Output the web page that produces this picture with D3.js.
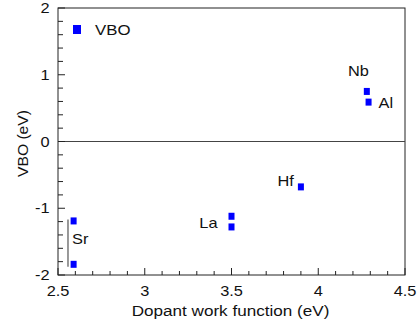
<!DOCTYPE html>
<html><head><meta charset="utf-8">
<script src="https://cdn.jsdelivr.net/npm/d3@7"></script>
<style>body{margin:0;background:#fff}svg{display:block}text{font-family:"Liberation Sans",Arial,sans-serif;fill:#111}</style>
</head><body><svg id="c" width="417" height="323"></svg>
<script>
const dopants = ["Sr","Sr","La","La","Hf","Nb","Al"];
const workFunction = [2.59,2.59,3.5,3.5,3.9,4.28,4.29];
const vbo = [-1.19,-1.84,-1.12,-1.28,-0.68,0.75,0.59];
const xTicks = [2.5,3,3.5,4,4.5];
const yTicks = [-2,-1,0,1,2];
const labels = [
  {name:"Nb", x:4.28, y:0.75, dx:2, dy:-15, anchor:"end"},
  {name:"Al", x:4.29, y:0.59, dx:10, dy:6, anchor:"start"},
  {name:"Hf", x:3.9, y:-0.68, dx:-7, dy:-1, anchor:"end"},
  {name:"La", x:3.5, y:-1.2, dx:-14, dy:6, anchor:"end"},
  {name:"Sr", x:2.5576, y:-1.5, dx:4, dy:2, anchor:"start"}
];

const svg = d3.select("#c");
const L=58, R=405, T=8, B=275;
const x = d3.scaleLinear().domain([2.5,4.5]).range([L,R]);
const y = d3.scaleLinear().domain([-2,2]).range([B,T]);
const col = "#222";
const SX = 1.17;

function txt(g, px, py, s, size, anchor, sx, rot){
  return g.append("text")
    .attr("transform",`translate(${px},${py})${rot?` rotate(${rot})`:""} scale(${sx||SX},1)`)
    .attr("font-size",size).attr("text-anchor",anchor||"start").text(s);
}

// frame
svg.append("rect").attr("x",L).attr("y",T).attr("width",R-L).attr("height",B-T)
  .attr("fill","none").attr("stroke",col).attr("stroke-width",1);
// zero line
svg.append("line").attr("x1",L).attr("x2",R).attr("y1",y(0)).attr("y2",y(0))
  .attr("stroke","#444").attr("stroke-width",1);

// x ticks (inward)
const xMinor = d3.range(25,46).map(d=>d/10);
svg.append("g").selectAll("line").data(xMinor).join("line")
  .attr("x1",d=>x(d)).attr("x2",d=>x(d)).attr("y1",B)
  .attr("y2",d=>B-(Math.abs(d*2-Math.round(d*2))<1e-6?7:4))
  .attr("stroke",col);
const gx = svg.append("g");
xTicks.forEach(d=>txt(gx, x(d), B+21, d, 14, "middle"));

// y ticks (inward)
const yMinor = d3.range(-10,11).map(d=>d/5);
svg.append("g").selectAll("line").data(yMinor).join("line")
  .attr("y1",d=>y(d)).attr("y2",d=>y(d)).attr("x1",L)
  .attr("x2",d=>L+(Math.abs(d-Math.round(d))<1e-6?7:5))
  .attr("stroke",col);
const gy = svg.append("g");
yTicks.forEach(d=>txt(gy, L-8.5, y(d)+5, d, 14, "end"));

// axis titles
txt(svg, 230.5, 316, "Dopant work function (eV)", 14.5, "middle", 1.18);
txt(svg, 28, 143.5, "VBO (eV)", 14.5, "middle", 1.08, -90);

// Sr bracket
svg.append("line").attr("x1",x(2.5576)).attr("x2",x(2.5576))
  .attr("y1",y(-1.17)).attr("y2",y(-1.875)).attr("stroke","#555").attr("stroke-width",1.2);

// points
const pts = dopants.map((d,i)=>({d, x:workFunction[i], y:vbo[i]}));
svg.append("g").selectAll("rect").data(pts).join("rect")
  .attr("x",d=>x(d.x)-3).attr("y",d=>y(d.y)-3.5).attr("width",6).attr("height",7)
  .attr("fill","#0000ff");

// labels
const gl = svg.append("g");
labels.forEach(d=>txt(gl, x(d.x)+d.dx, y(d.y)+d.dy, d.name, 14, d.anchor));

// legend
svg.append("rect").attr("x",73).attr("y",25).attr("width",8).attr("height",9).attr("fill","#0000ff");
txt(svg, 95, 34.5, "VBO", 14, "start", 1.2);
</script></body></html>
